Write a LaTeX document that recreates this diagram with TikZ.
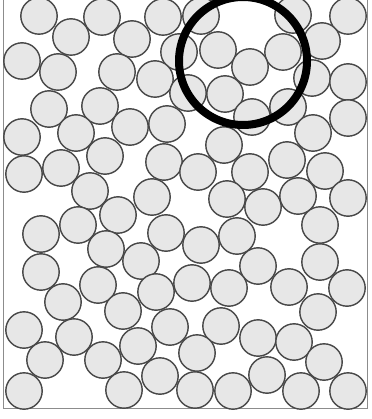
\documentclass[tikz,border=0pt]{standalone}
\usepackage{tikz}

\tikzset{
  grain/.style={draw=black!72, line width=1.4pt, fill=gray!19},
  wall/.style={draw=black!45, line width=0.9pt},
  lens/.style={draw=black, line width=8pt}
}

\begin{document}
\begin{tikzpicture}[x=1pt, y=-1pt]
\useasboundingbox (0,0) rectangle (371,419);
\clip (0,0) rectangle (371,419);
% container
\draw[wall] (3,0) -- (3,408) -- (367,408) -- (367,0);
% particles
\foreach \px/\py in {39/16, 102/17, 163/17, 201/16, 293/15, 348/16,
  71/37, 132/39, 179/52, 218/50, 283/52, 322/41,
  22/61, 58/72, 117/72, 155/79, 250/67, 312/78, 348/82,
  188/93, 225/94,
  49/109, 100/106, 130/127, 167/124, 288/107, 252/117, 348/118, 313/133,
  22/137, 76/133,
  224/145, 105/156, 164/162, 287/160,
  24/174, 61/168, 198/172, 250/172, 325/171,
  90/191, 152/197, 227/199, 263/207, 298/196, 348/198,
  118/215, 78/225, 320/225,
  41/234, 166/233, 237/236, 201/245,
  106/249, 141/261, 258/266, 320/262,
  41/272, 98/285, 156/292, 192/283, 229/288, 289/287, 347/288,
  63/302, 123/311, 318/312,
  24/330, 74/337, 170/327, 221/326,
  138/346, 258/338, 294/342, 197/353,
  45/360, 103/360, 324/362,
  160/376, 267/375,
  24/391, 124/390, 195/390, 233/391, 301/391, 348/391}
  \draw[grain] (\px,\py) circle (18.2);
% highlighted region
\draw[lens] (243,61) circle (64);
\end{tikzpicture}
\end{document}
